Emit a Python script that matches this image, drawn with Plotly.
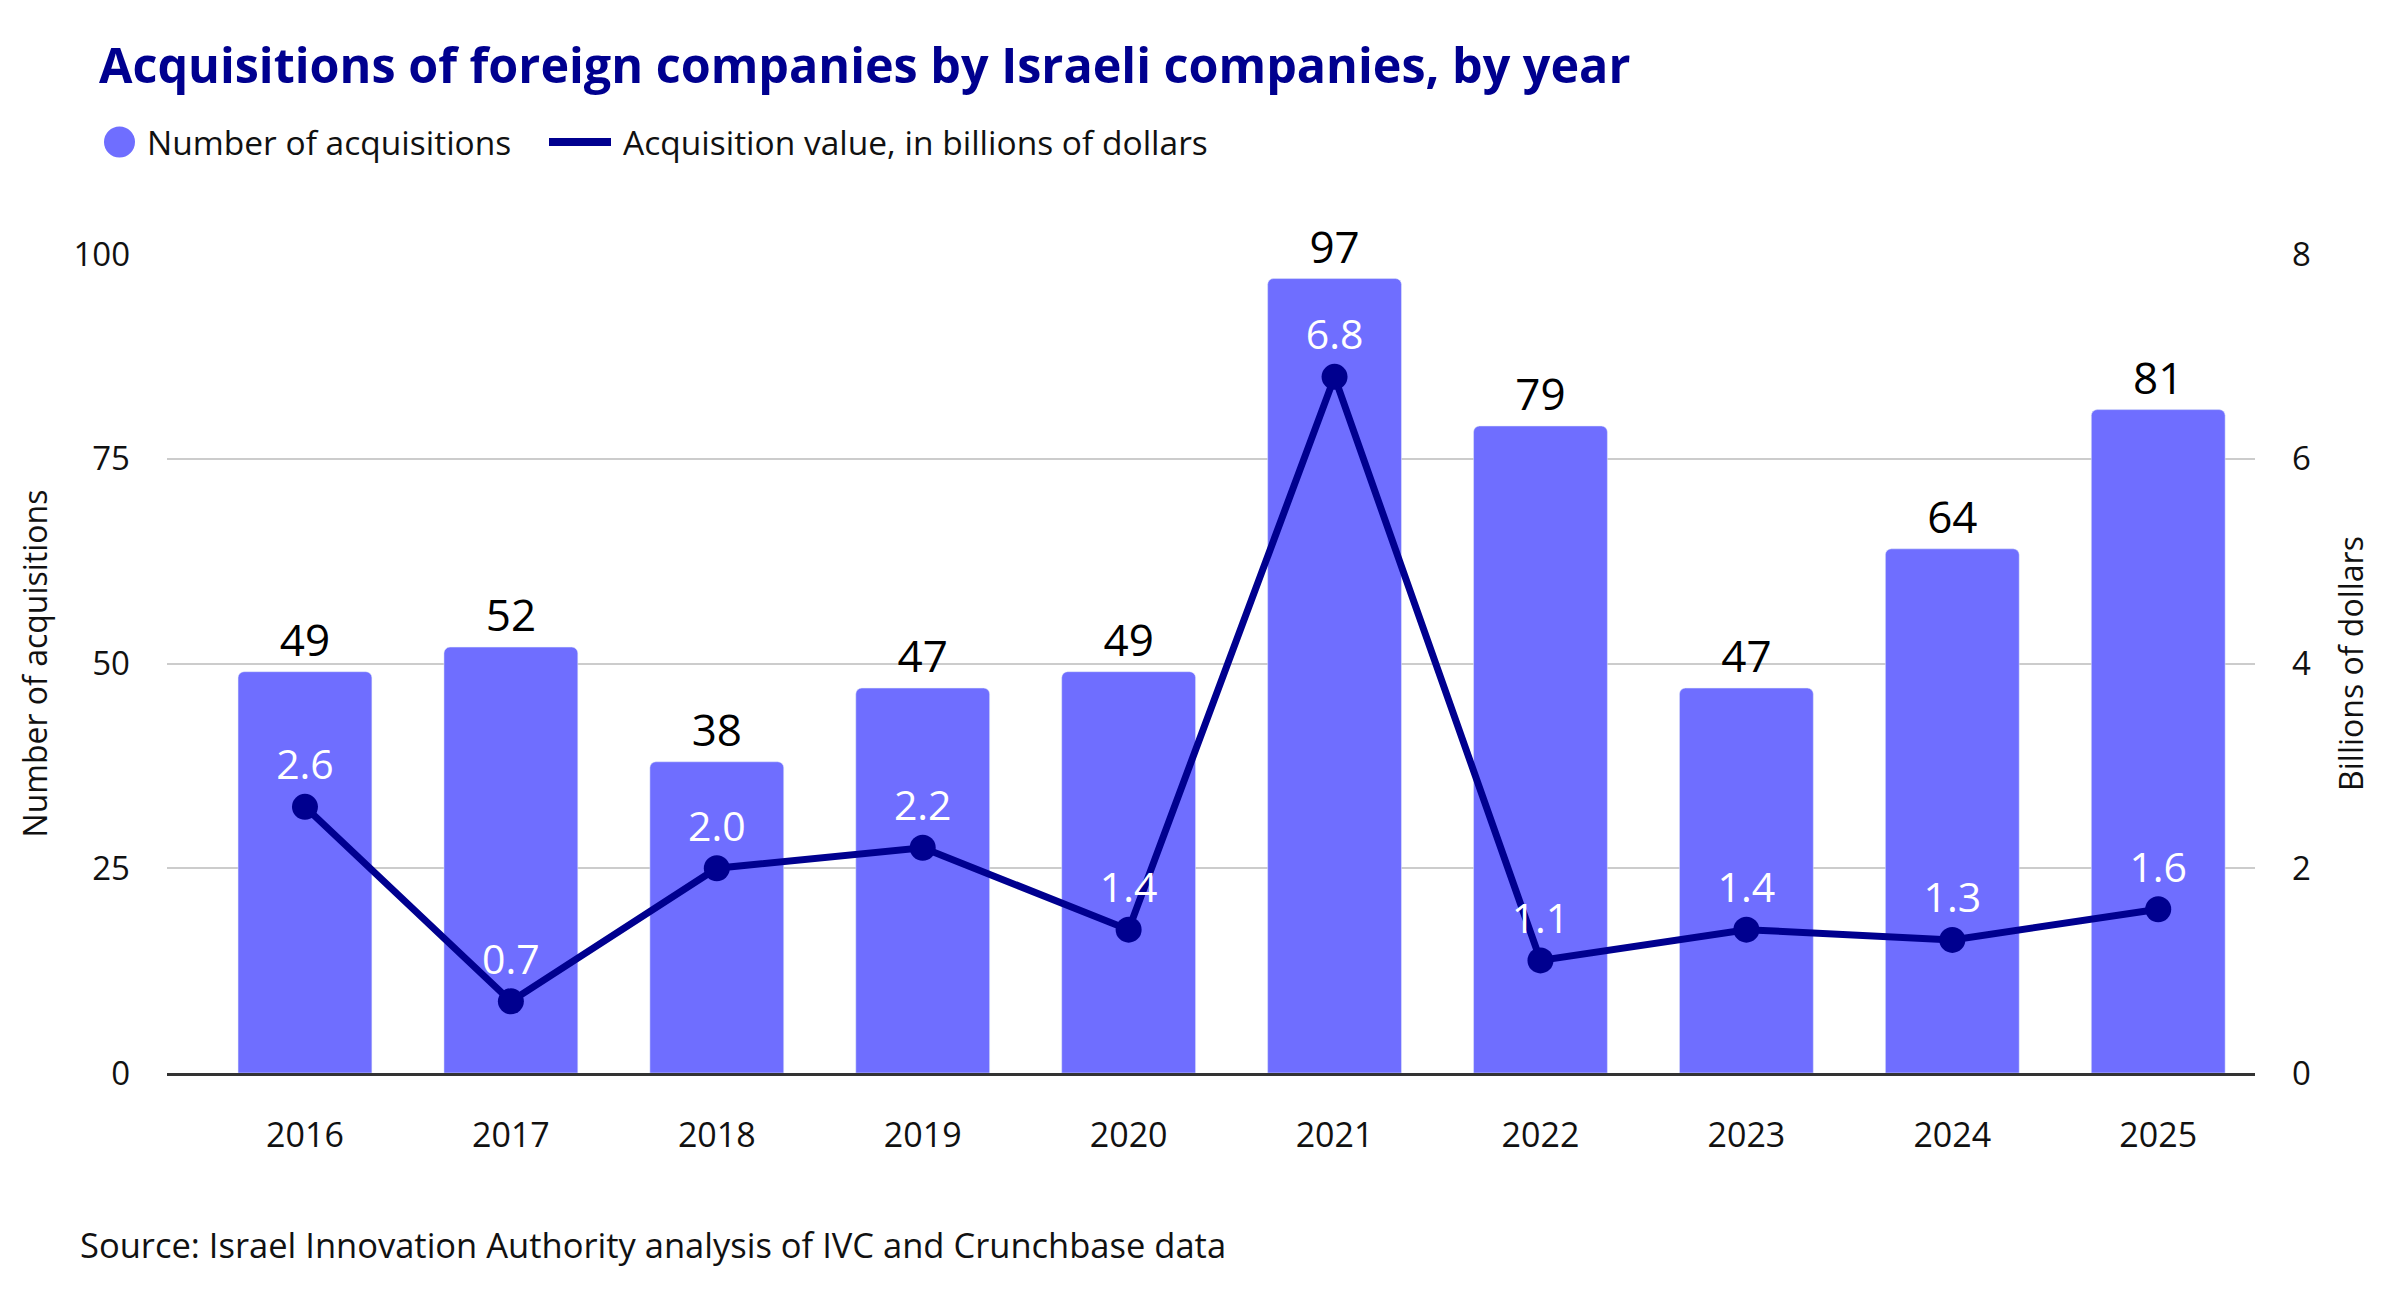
import plotly.graph_objects as go

years = ["2016", "2017", "2018", "2019", "2020", "2021", "2022", "2023", "2024", "2025"]
num_acquisitions = [49, 52, 38, 47, 49, 97, 79, 47, 64, 81]
value_billions = [2.6, 0.7, 2.0, 2.2, 1.4, 6.8, 1.1, 1.4, 1.3, 1.6]
left_ticks = [0, 25, 50, 75, 100]
right_ticks = [0, 2, 4, 6, 8]
legend_labels = ["Number of acquisitions", "Acquisition value, in billions of dollars"]

BAR = "#6F6EFF"
NAVY = "#00008F"
FONT = "Open Sans"
TXT = "#111111"

W, H = 2400, 1306
L, R, T, B = 167, 145, 254, 233
pw, ph = W - L - R, H - T - B


def px(x):
    return (x - L) / pw


def py(y):
    return (H - B - y) / ph


fig = go.Figure()

fig.add_trace(go.Bar(
    x=years, y=num_acquisitions, marker_color=BAR, showlegend=False,
    text=[str(v) for v in num_acquisitions], textposition="outside",
    textfont=dict(family=FONT, size=44, color="#000000", weight=500),
    cliponaxis=False, hoverinfo="skip",
))

fig.add_trace(go.Scatter(
    x=years, y=value_billions, yaxis="y2", mode="lines+markers+text",
    line=dict(color=NAVY, width=7), marker=dict(color=NAVY, size=26),
    text=[f"{v:.1f}" for v in value_billions], textposition="top center",
    textfont=dict(family=FONT, size=41, color="#FFFFFF"),
    showlegend=False, cliponaxis=False,
))

# manual legend (matches the circle / thick-line legend icons of the reference)
fig.add_shape(type="circle", xref="paper", yref="paper",
              x0=px(104), x1=px(135), y0=py(157.5), y1=py(126.5),
              fillcolor=BAR, line=dict(width=0))
fig.add_annotation(text=legend_labels[0], xref="paper", yref="paper",
                   x=px(145), y=py(142), xanchor="left", yanchor="middle",
                   showarrow=False, font=dict(family=FONT, size=33.5, color=TXT))
fig.add_shape(type="line", xref="paper", yref="paper",
              x0=px(549), x1=px(611), y0=py(142), y1=py(142),
              line=dict(color=NAVY, width=8))
fig.add_annotation(text=legend_labels[1], xref="paper", yref="paper",
                   x=px(621), y=py(142), xanchor="left", yanchor="middle",
                   showarrow=False, font=dict(family=FONT, size=33.5, color=TXT))

fig.add_annotation(
    text="Source: Israel Innovation Authority analysis of IVC and Crunchbase data",
    xref="paper", yref="paper", x=px(78), y=py(1244),
    xanchor="left", yanchor="middle", showarrow=False,
    font=dict(family=FONT, size=34.5, color=TXT),
)

fig.update_layout(
    width=W, height=H,
    margin=dict(l=L, r=R, t=T, b=B, autoexpand=False),
    paper_bgcolor="white", plot_bgcolor="white",
    font=dict(family=FONT, color=TXT),
    barcornerradius=6,
    bargap=0.35,
    showlegend=False,
    title=dict(
        text="<b>Acquisitions of foreign companies by Israeli companies, by year</b>",
        xref="container", yref="container", x=99 / W, y=1 - 66 / H,
        xanchor="left", yanchor="middle",
        font=dict(family=FONT, size=48.5, color=NAVY),
    ),
    xaxis=dict(
        type="category", range=[-0.67, 9.47],
        showgrid=False, showline=True, linecolor="#333333", linewidth=3,
        ticks="", tickfont=dict(family=FONT, size=34, color=TXT),
        ticklabelstandoff=30,
    ),
    yaxis=dict(
        range=[0, 100], tickvals=left_ticks, showgrid=True, gridcolor="#CCCCCC",
        gridwidth=2, zeroline=False, showline=False, ticks="",
        tickfont=dict(family=FONT, size=33, color=TXT),
        ticklabelstandoff=36,
        title=dict(text="Number of acquisitions", font=dict(family=FONT, size=32, color=TXT), standoff=16),
    ),
    yaxis2=dict(
        range=[0, 8], tickvals=right_ticks, overlaying="y", side="right",
        showgrid=False, zeroline=False, showline=False, ticks="",
        tickfont=dict(family=FONT, size=33, color=TXT),
        ticklabelstandoff=36,
        title=dict(text="Billions of dollars", font=dict(family=FONT, size=32, color=TXT), standoff=30),
    ),
)

fig.write_html("out.html")
